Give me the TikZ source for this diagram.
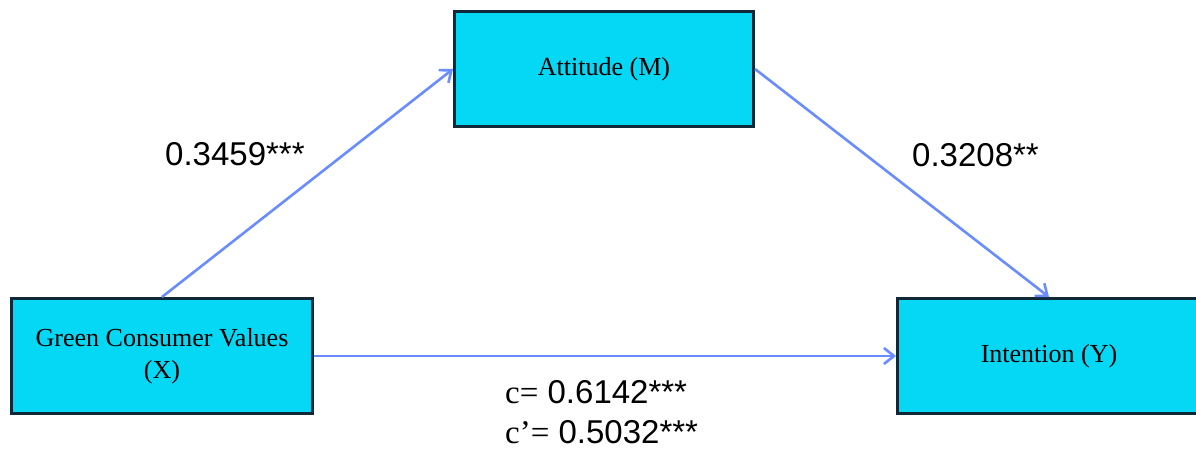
\documentclass[tikz,border=0pt]{standalone}
\usepackage{fontspec}
\setmainfont{Liberation Serif}
\newfontfamily\arialfont{Liberation Sans}
\usetikzlibrary{arrows.meta}
\definecolor{boxfill}{RGB}{5,216,245}
\definecolor{boxline}{RGB}{16,40,56}
\definecolor{arrowblue}{RGB}{105,140,255}
\begin{document}
\begin{tikzpicture}[x=1pt,y=-1pt,
  varbox/.style={draw=boxline, line width=3pt, fill=boxfill,
    minimum width=301pt, minimum height=115pt, inner sep=0pt,
    align=center, font=\fontsize{26}{32}\selectfont},
  link/.style={draw=arrowblue, line width=2.6pt,
    -{Straight Barb[length=10pt,width=16pt,line width=2.6pt]}},
  coef/.style={anchor=base west, inner sep=0pt, font=\arialfont\fontsize{33}{40}\selectfont}]
\useasboundingbox (0,0) rectangle (1196,448);
\clip (0,0) rectangle (1196,448);
\node[varbox] (X) at (162,356) {Green Consumer Values\\(X)};
\node[varbox, minimum width=299pt] (M) at (604,69) {Attitude (M)};
\node[varbox, minimum width=303pt] (Y) at (1049,356) {Intention (Y)};
\draw[link] (X.north) -- (M.west);
\draw[link] (M.east) -- (Y.north);
\draw[link] (X.east) -- (Y.west);
\node[coef] (a) at (165,165) {0.3459***};
\node[coef] (b) at (912,166) {0.3208**};
\node[coef] (c) at (505,403) {{\rmfamily c=} 0.6142***};
\node[coef] (cp) at (505,443) {{\rmfamily c’=} 0.5032***};
\end{tikzpicture}
\end{document}
